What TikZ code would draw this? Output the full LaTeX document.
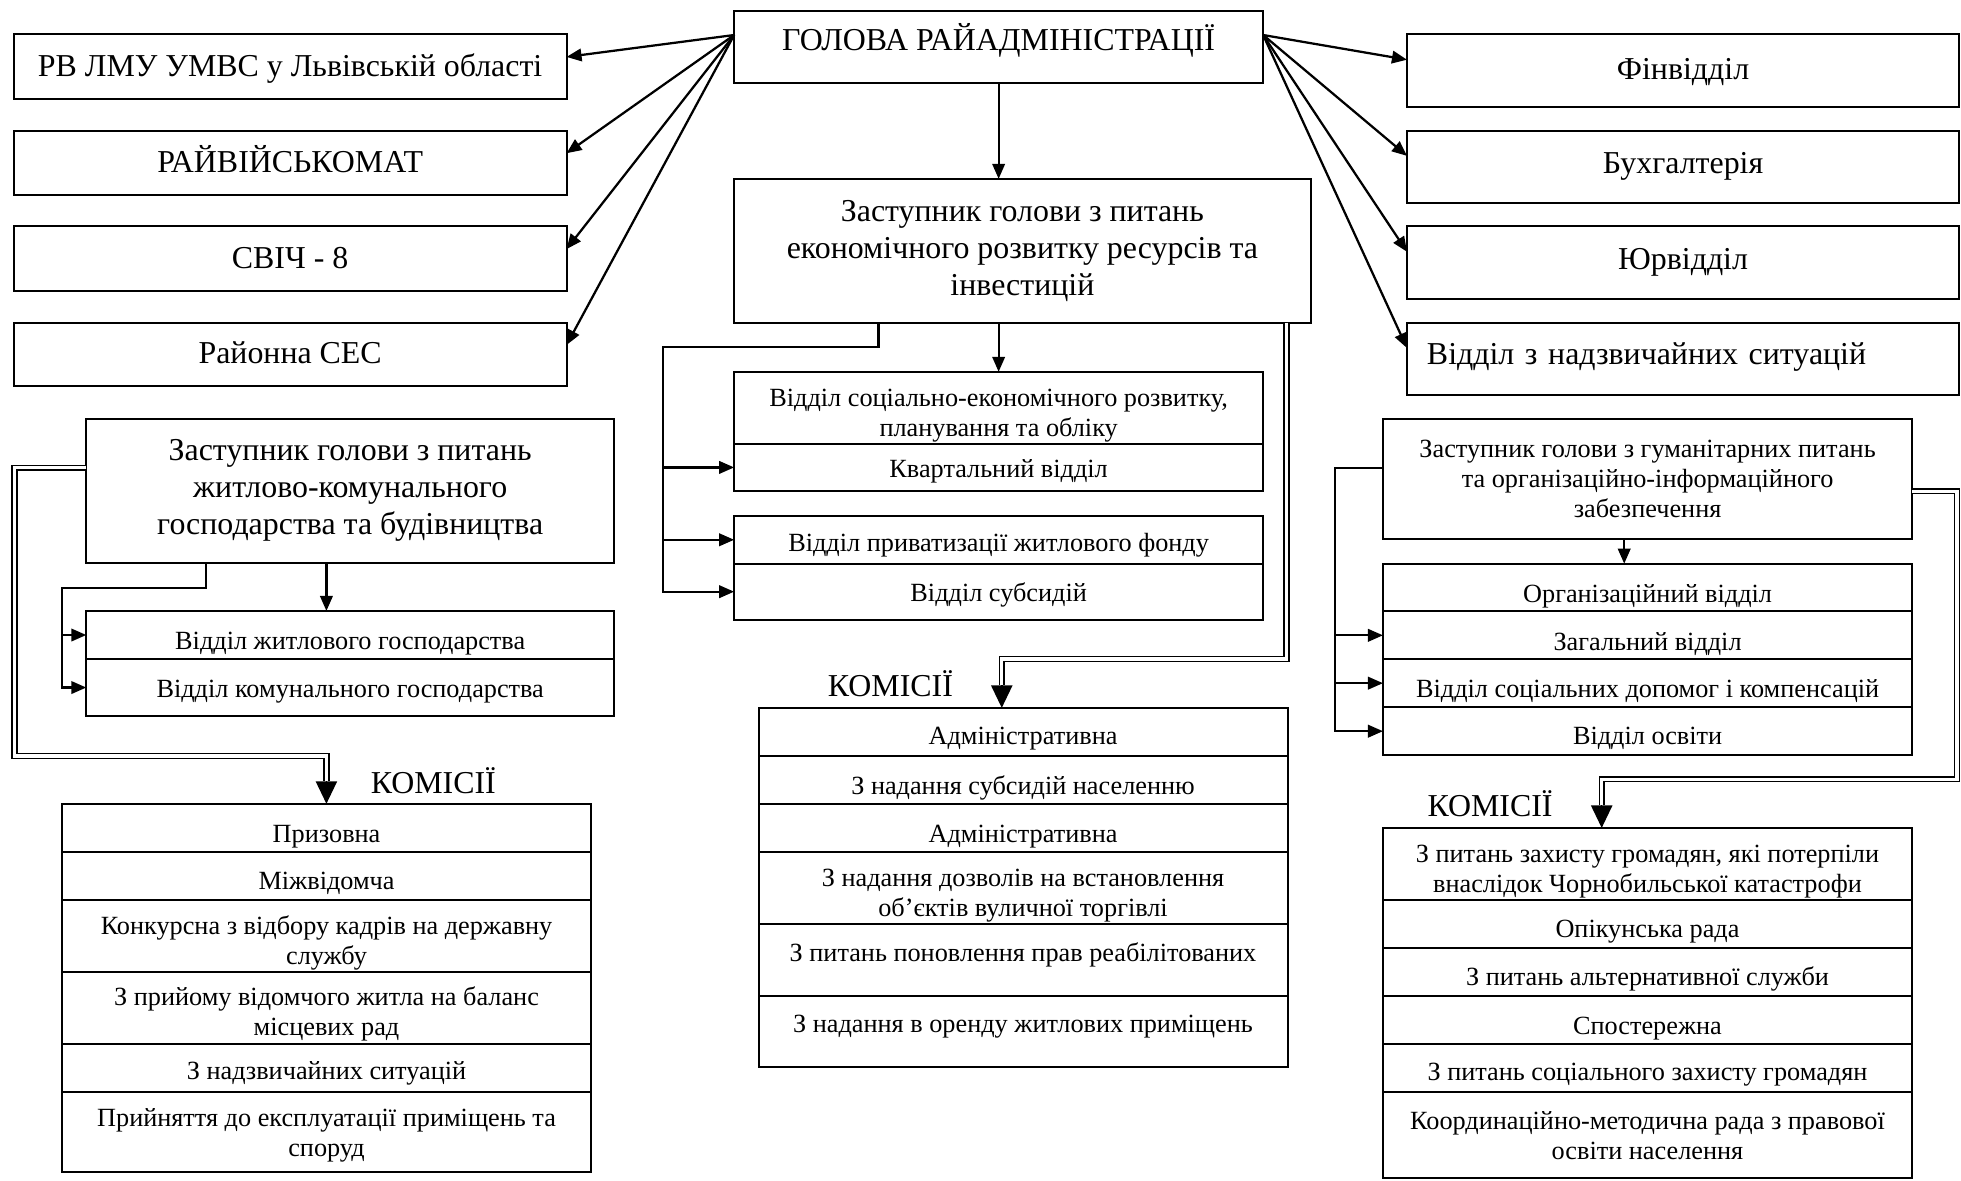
\documentclass[tikz,border=0pt]{standalone}
\usepackage{fontspec}
\setmainfont{Liberation Serif}
\usetikzlibrary{arrows.meta,calc}

\tikzset{
  box/.style={draw, line width=1.6pt, rectangle, inner xsep=2pt, inner ysep=0pt, outer sep=0pt, align=center},
  big/.style={font=\fontsize{25.5}{29.5}\selectfont},
  small/.style={font=\fontsize{21}{24}\selectfont},
  th/.style={text height=#1, text depth=0pt},
  lbl/.style={font=\fontsize{25.5}{29}\selectfont, inner sep=0pt, anchor=base},
  arr/.style={line width=1.8pt, -{Triangle[length=12pt,width=10pt]}},
  dbl/.style={double, line width=1.2pt, double distance=2.6pt},
  bigarr/.style={line width=1.2pt, -{Triangle[length=18pt,width=17pt]}},
}

% [options]{name}{x1}{y1}{x2}{y2}{text}: a framed box given by its corners
\newcommand\orgbox[7][]{%
  \node[box,#1,minimum width={(#5-#3)*1pt},minimum height={(#6-#4)*1pt}]
    (#2) at ({(#3+#5)/2},{(#4+#6)/2}) {#7};}
\newcommand\dn[1]{\rule{0pt}{#1}}

\begin{document}
\begin{tikzpicture}[x=1pt,y=-1pt]
\fill[white] (0,0) rectangle (1568,944);
\useasboundingbox (0,0) rectangle (1568,944);

% head of the administration
\orgbox[big,th=5.5pt]{head}{587}{9}{1010}{66}{ГОЛОВА РАЙАДМІНІСТРАЦІЇ}

% services on the left
\orgbox[big,th=15.4pt]{rv}{11}{27.5}{453}{79}{РВ ЛМУ УМВС у Львівській області}
\orgbox[big,th=14.6pt]{rvk}{11}{104.5}{453}{156}{РАЙВІЙСЬКОМАТ}
\orgbox[big,th=15.9pt]{svich}{11}{181}{453}{233}{СВІЧ - 8}
\orgbox[big,th=14.9pt]{ses}{11}{258}{453}{309}{Районна СЕС}

% departments on the right
\orgbox[big,th=14.3pt]{fin}{1125}{27.5}{1566.5}{85.3}{Фінвідділ}
\orgbox[big,th=11.4pt]{buh}{1125}{104.5}{1566.5}{162}{Бухгалтерія}
\orgbox[big,th=11.1pt]{yur}{1125}{181}{1566.5}{239}{Юрвідділ}
\orgbox[big,th=9.1pt,inner xsep=16pt,text width=409.5pt,align=left]{ns}{1125}{258}{1566.5}{316}{Відділ з надзвичайних ситуацій}

% economic deputy and his departments
\orgbox[big]{econ}{587}{143}{1048}{258}{Заступник голови з питань\\економічного розвитку ресурсів та\\інвестицій}
\orgbox[small]{sa}{587}{297.3}{1010}{354.7}{\dn{27pt}Відділ соціально-економічного розвитку,\\планування та обліку}
\orgbox[small,th=16.8pt]{sb}{587}{354.7}{1010}{392.8}{Квартальний відділ}
\orgbox[small,th=18.5pt]{sc}{587}{412.5}{1010}{450.7}{Відділ приватизації житлового фонду}
\orgbox[small,th=15.5pt]{sd}{587}{450.7}{1010}{495.5}{Відділ субсидій}

\node[lbl] (kc) at (712,557) {КОМІСІЇ};
\orgbox[small,th=19.4pt]{c1}{606.5}{566}{1029.5}{604.5}{Адміністративна}
\orgbox[small,th=22.2pt]{c2}{606.5}{604.5}{1029.5}{643.2}{З надання субсидій населенню}
\orgbox[small,th=22.8pt]{c3}{606.5}{643.2}{1029.5}{681.3}{Адміністративна}
\orgbox[small]{c4}{606.5}{681.3}{1029.5}{739.2}{\dn{26pt}З надання дозволів на встановлення\\об’єктів вуличної торгівлі}
\orgbox[small,text depth=13.5pt]{c5}{606.5}{739.2}{1029.5}{796.5}{З питань поновлення прав реабілітованих}
\orgbox[small,text depth=12pt]{c6}{606.5}{796.5}{1029.5}{853.3}{З надання в оренду житлових приміщень}

% housing deputy and his departments
\orgbox[big]{zk}{69}{334.7}{491}{450}{Заступник голови з питань\\житлово-комунального\\господарства та будівництва}
\orgbox[small,th=23.4pt]{zk1}{69}{488.5}{491}{527}{Відділ житлового господарства}
\orgbox[small,th=15.8pt]{zk2}{69}{527}{491}{572.5}{Відділ комунального господарства}

\node[lbl] (kl) at (346.5,634.5) {КОМІСІЇ};
\orgbox[small,th=23.3pt]{l1}{49.8}{642.7}{472.4}{681.3}{Призовна}
\orgbox[small,th=21.1pt]{l2}{49.8}{681.3}{472.4}{719.5}{Міжвідомча}
\orgbox[small]{l3}{49.8}{719.5}{472.4}{776.8}{\dn{27pt}Конкурсна з відбору кадрів на державну\\службу}
\orgbox[small]{l4}{49.8}{776.8}{472.4}{834.7}{\dn{25pt}З прийому відомчого житла на баланс\\місцевих рад}
\orgbox[small,th=18.4pt]{l5}{49.8}{834.7}{472.4}{872.8}{З надзвичайних ситуацій}
\orgbox[small]{l6}{49.8}{872.8}{472.4}{936.8}{\dn{20pt}Прийняття до експлуатації приміщень та\\споруд}

% humanitarian deputy and his departments
\orgbox[small]{zg}{1105.8}{335.2}{1529}{431.2}{Заступник голови з гуманітарних питань\\та організаційно-інформаційного\\забезпечення}
\orgbox[small,th=23.8pt]{g1}{1105.8}{450.7}{1529}{488.8}{Організаційний відділ}
\orgbox[small,th=24.5pt]{g2}{1105.8}{488.8}{1529}{527.2}{Загальний відділ}
\orgbox[small,th=22.8pt]{g3}{1105.8}{527.2}{1529}{565.3}{Відділ соціальних допомог і компенсацій}
\orgbox[small,th=20.6pt]{g4}{1105.8}{565.3}{1529}{604}{Відділ освіти}

\node[lbl] (kr) at (1191.4,653) {КОМІСІЇ};
\orgbox[small]{r1}{1105.8}{662}{1528.8}{719.5}{\dn{26pt}З питань захисту громадян, які потерпіли\\внаслідок Чорнобильської катастрофи}
\orgbox[small,th=21.7pt]{r2}{1105.8}{719.5}{1528.8}{758.1}{Опікунська рада}
\orgbox[small,th=21.9pt]{r3}{1105.8}{758.1}{1528.8}{796.5}{З питань альтернативної служби}
\orgbox[small,th=22.7pt]{r4}{1105.8}{796.5}{1528.8}{834.7}{Спостережна}
\orgbox[small,th=20.5pt]{r5}{1105.8}{834.7}{1528.8}{873.3}{З питань соціального захисту громадян}
\orgbox[small]{r6}{1105.8}{873.3}{1528.8}{942.3}{Координаційно-методична рада з правової\\освіти населення}

% fan of arrows from the head
\coordinate (hl) at ([yshift=-19pt]head.north west);
\coordinate (hr) at ([yshift=-19pt]head.north east);
\foreach \n in {rv,rvk,svich,ses}
  \draw[arr] (hl) -- ($(\n.north east)!0.35!(\n.south east)$);
\foreach \n in {fin,buh,yur,ns}
  \draw[arr] (hr) -- ($(\n.north west)!0.35!(\n.south west)$);
\draw[arr] (head.south) -- (head.south |- econ.north);

% economic branch
\draw[arr] (sa.north |- econ.south) -- (sa.north);
\coordinate (eb) at (530,277.3);
\draw[arr] ([xshift=115.5pt]econ.south west) |- (eb) |- (sd.west);
\draw[arr] (eb |- sb.west) -- (sb.west);
\draw[arr] (eb |- sc.west) -- (sc.west);
\coordinate (ek) at (801,527);
\coordinate (ekt) at (801,548);
\draw[dbl] ([xshift=-19.25pt]econ.south east) |- (ek) -- (ekt);
\draw[bigarr] (ekt) -- (ekt |- c1.north);

% housing branch
\draw[arr] ([xshift=-19pt]zk.south) -- ([xshift=-19pt]zk.south |- zk1.north);
\coordinate (kb) at (49.5,470);
\draw[arr] ([xshift=96pt]zk.south west) |- (kb) |- (zk2.west);
\draw[arr] (kb |- zk1.west) -- (zk1.west);
\coordinate (kd1) at (11.5,604.5);
\coordinate (kd2) at (261,624.7);
\draw[dbl] ([yshift=-39.3pt]zk.north west) -| (kd1) -| (kd2);
\draw[bigarr] (kd2) -- (kd2 |- l1.north);

% humanitarian branch
\draw[arr] ([xshift=-18.7pt]zg.south) -- ([xshift=-18.7pt]zg.south |- g1.north);
\coordinate (gb) at (1067.7,374);
\draw[arr] ([yshift=-38.8pt]zg.north west) -- (gb) |- (g4.west);
\draw[arr] (gb |- g2.west) -- (g2.west);
\draw[arr] (gb |- g3.west) -- (g3.west);
\coordinate (gd1) at (1564.8,623);
\coordinate (gd2) at (1280.7,644);
\draw[dbl] ([yshift=-57.5pt]zg.north east) -| (gd1) -| (gd2);
\draw[bigarr] (gd2) -- (gd2 |- r1.north);
\end{tikzpicture}
\end{document}
